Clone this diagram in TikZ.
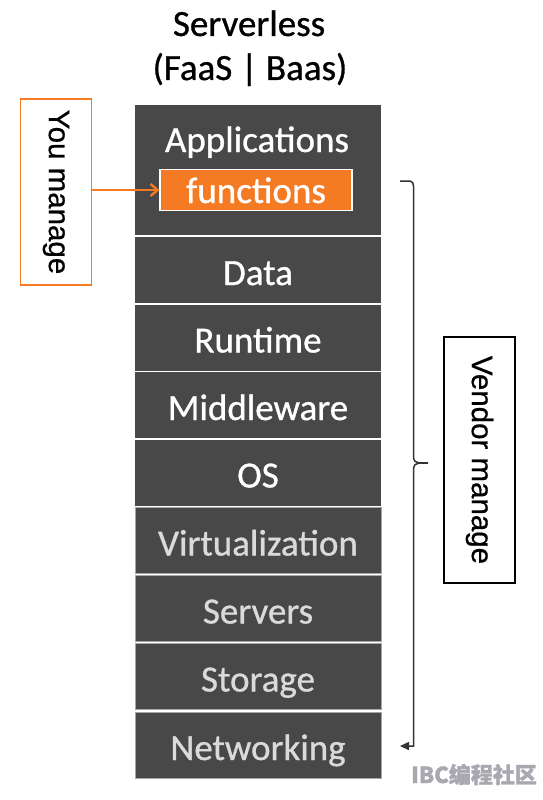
\documentclass[tikz,border=0pt]{standalone}
\usepackage{fontspec}
\setmainfont{Carlito}[RawFeature={embolden=0.8}]
\newfontfamily\arialf{Liberation Sans}[RawFeature={embolden=0.6}]
\newfontfamily\cjkf{Noto Sans CJK SC}[RawFeature={embolden=1.5}]
\usetikzlibrary{arrows.meta}
\definecolor{stackgray}{HTML}{484848}
\definecolor{lowtext}{HTML}{DADADA}
\definecolor{orangef}{HTML}{F47B23}
\definecolor{bracec}{HTML}{333333}
\definecolor{wmark}{HTML}{A8A8B0}
\tikzset{
  layer/.style={fill=stackgray, minimum width=246pt, minimum height=66pt, inner sep=0pt,
    text height=34pt, text depth=4pt, text=white, font=\fontsize{37}{42}\selectfont},
  lowlayer/.style={layer, draw=gray!70, line width=0.8pt, text=lowtext},
  labelbox/.style={draw, line width=1.6pt, fill=white, inner sep=0pt},
  sidetext/.style={font=\arialf\fontsize{29.5}{32}\selectfont, rotate=-90},
}
\begin{document}
\begin{tikzpicture}[x=1pt,y=-1pt]
\useasboundingbox (0,0) rectangle (543,800);
% title
\node[anchor=base, font=\fontsize{37}{42}\selectfont] (t1) at (249,36) {Serverless};
\node[anchor=base, font=\fontsize{37}{42}\selectfont] (t2) at (250,80) {(FaaS | Baas)};
% applications block
\node[fill=stackgray, minimum width=246pt, minimum height=130pt, inner sep=0pt] (appl) at (258,170) {};
\node[anchor=base, text=white, font=\fontsize{37}{42}\selectfont] (appt) at (257,152) {Applications};
\node[fill=orangef, draw=white, line width=1.2pt, minimum width=192pt, minimum height=41pt, inner sep=0pt,
  text height=27pt, text depth=1pt, text=white, font=\fontsize{37}{42}\selectfont] (func) at (256,190) {functions};
% layers
\node[layer] (data) at (258,270) {Data};
\node[layer] (runtime) at (258,337.5) {Runtime};
\node[layer] (middle) at (258,405) {Middleware};
\node[layer] (os) at (258,472.5) {OS};
\node[lowlayer] (virt) at (258,540.5) {Virtualization};
\node[lowlayer] (servers) at (258,608.5) {Servers};
\node[lowlayer] (storage) at (258,676.5) {Storage};
\node[lowlayer] (net) at (258,745) {Networking};
% you manage
\node[labelbox, draw=orangef, minimum width=71pt, minimum height=186pt] (you) at (56,192) {};
\node[sidetext] (yout) at (you.center) {You manage};
\draw[orangef, line width=2.4pt, -{Straight Barb[length=7pt,width=12pt]}] (you.east |- func.west) -- (func.west);
% vendor manage
\node[labelbox, draw=black, line width=1.2pt, minimum width=71pt, minimum height=246pt] (vendor) at (479.5,460) {};
\node[sidetext] (vendt) at (vendor.center) {Vendor manage};
% brace
\coordinate (btop) at (400,181);
\coordinate (bmid) at (428,463);
\coordinate (bbot) at (400,746);
\draw[bracec, line width=1.5pt, -{Triangle[length=9pt,width=8pt]}]
  (btop) -- (410,181) to[out=0,in=90] (413.5,186) -- (413.5,458) to[out=-90,in=180] (bmid)
  (bmid) to[out=180,in=90] (413.5,468) -- (413.5,746) -- (bbot);
% watermark
\node[anchor=base west, text=wmark, font=\cjkf\bfseries\fontsize{22}{24}\selectfont, inner sep=0pt] (wm) at (411,783) {IBC编程社区};
\end{tikzpicture}
\end{document}
